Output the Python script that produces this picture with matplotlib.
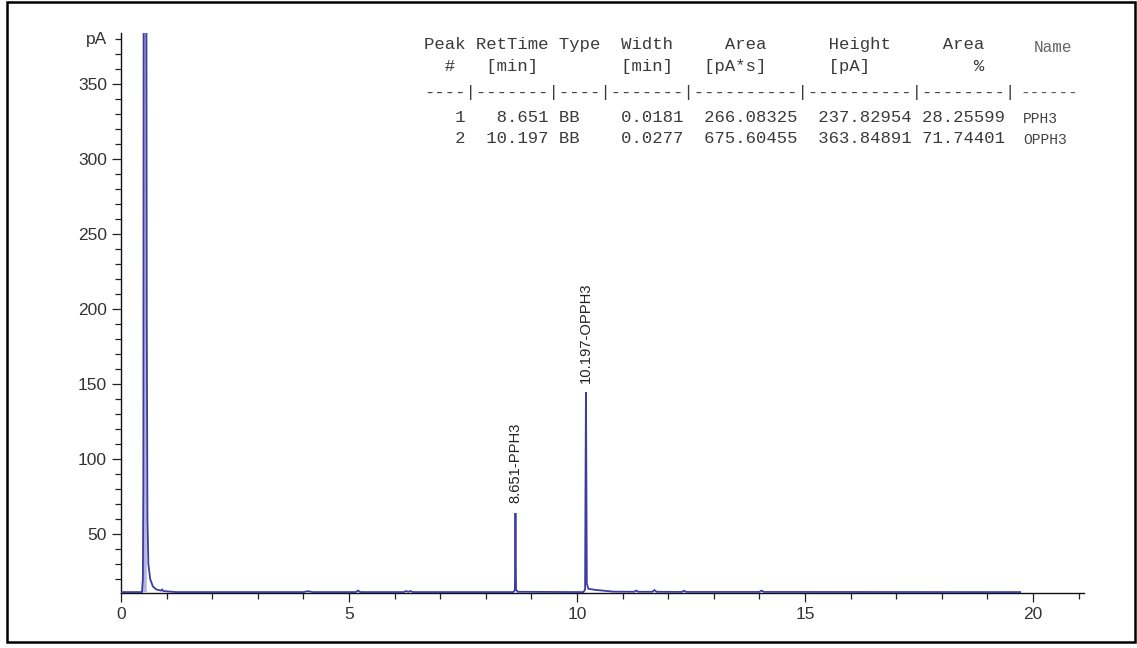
import matplotlib
matplotlib.use("Agg")
import matplotlib.pyplot as plt
from matplotlib.patches import Rectangle
from matplotlib.ticker import FixedLocator

W, H = 1137, 648

# ---- chromatogram trace: retention time [min] vs detector signal [pA]
time_min = [0.00, 0.46, 0.48, 0.49, 0.50, 0.55, 0.565, 0.58, 0.60, 0.64, 0.70,
            0.78, 0.88, 0.90, 0.93, 1.20, 4.00, 4.10, 4.20, 5.15, 5.20, 5.25,
            6.20, 6.25, 6.30, 6.35, 6.40, 8.60, 8.638, 8.646, 8.651, 8.656,
            8.664, 8.70, 10.14, 10.178, 10.188, 10.197, 10.206, 10.216, 10.25,
            10.40, 10.60, 10.80, 11.25, 11.30, 11.35, 11.65, 11.70, 11.75,
            12.30, 12.35, 12.40, 14.00, 14.05, 14.10, 19.72]
signal_pa = [11.3, 11.3, 20.0, 85.0, 600.0, 600.0, 195.0, 60.0, 30.0, 20.0, 15.0,
             13.0, 12.3, 13.0, 12.0, 11.3, 11.3, 11.9, 11.3, 11.3, 12.3, 11.3,
             11.3, 12.0, 11.5, 12.0, 11.3, 11.3, 12.5, 40.0, 64.0, 40.0,
             13.0, 11.5, 11.3, 13.0, 90.0, 144.5, 90.0, 17.0, 13.5,
             12.8, 12.2, 11.6, 11.5, 12.3, 11.5, 11.5, 12.6, 11.5,
             11.4, 12.2, 11.4, 11.4, 12.3, 11.4, 11.3]
baseline_pa = 11.3

# ---- integrated peaks
peak_rt = [8.651, 10.197]
peak_top = [64.0, 144.5]
peak_name = ["PPH3", "OPPH3"]

# ---- integration report
peak_no = [1, 2]
peak_type = ["BB", "BB"]
peak_width = ["0.0181", "0.0277"]
peak_area = ["266.08325", "675.60455"]
peak_height = ["237.82954", "363.84891"]
peak_area_pct = ["28.25599", "71.74401"]

x_major = [0, 5, 10, 15, 20]
x_minor = [1, 2, 3, 4, 6, 7, 8, 9, 11, 12, 13, 14, 16, 17, 18, 19, 21]
y_major = [50, 100, 150, 200, 250, 300, 350]
y_minor = [v for v in range(20, 390, 10) if v not in y_major]

sans = "Liberation Sans"
mono = "Liberation Mono"

fig = plt.figure(figsize=(W / 100, H / 100), dpi=100)
fig.patch.set_facecolor("white")

ax = fig.add_axes([121 / W, 1 - 593 / H, (1084 - 121) / W, (593 - 33) / H])
ax.set_xlim(0, 21.12)
ax.set_ylim(10.7, 384)

# shade only the off-scale solvent front
solvent = [t <= 0.57 for t in time_min]
ax.fill_between(time_min, baseline_pa, signal_pa, where=solvent,
                color="#b4b4e2", lw=0, zorder=2.6)
ax.plot(time_min, signal_pa, color="#3c3ca2", lw=1.3, zorder=3,
        solid_joinstyle="miter")

for s in ("top", "right"):
    ax.spines[s].set_visible(False)
for s in ("left", "bottom"):
    ax.spines[s].set_color("#111111")
    ax.spines[s].set_linewidth(1.0)

ax.xaxis.set_major_locator(FixedLocator(x_major))
ax.xaxis.set_minor_locator(FixedLocator(x_minor))
ax.yaxis.set_major_locator(FixedLocator(y_major))
ax.yaxis.set_minor_locator(FixedLocator(y_minor))
ax.tick_params(which="major", length=6.5, width=0.9, color="#222222",
               labelsize=12.5, labelcolor="#333333", pad=3.6)
ax.tick_params(which="minor", length=4.2, width=0.9, color="#222222")
for lab in ax.get_xticklabels() + ax.get_yticklabels():
    lab.set_family(sans)

# unit label sitting on the top minor tick
ax.annotate("pA", xy=(0, 380), xycoords=("axes fraction", "data"),
            xytext=(-10.2, 0), textcoords="offset points", ha="right",
            va="center", fontsize=12.5, color="#333333", family=sans)

# peak annotations
for rt, top, name in zip(peak_rt, peak_top, peak_name):
    ax.annotate(f"{rt:.3f}-{name}", xy=(rt, top), xytext=(0, 7),
                textcoords="offset points", rotation=90, ha="center",
                va="bottom", fontsize=10.6, color="#222222", family=sans)

# ---- report table
def ftext(px, py, s, **kw):
    fig.text(px / W, 1 - py / H, s, va="center", ha="left", **kw)

x0 = 424.5
tcol = "#3a3a3a"
tsize = 12.4
hdr1 = "Peak RetTime Type  Width     Area      Height     Area"
hdr2 = "  #   [min]        [min]   [pA*s]      [pA]          %"
dash = "----|-------|----|-------|----------|----------|--------|"
ftext(x0, 44, hdr1, family=mono, fontsize=tsize, color=tcol)
ftext(x0, 66, hdr2, family=mono, fontsize=tsize, color=tcol)
ftext(x0, 92, dash, family=mono, fontsize=tsize, color=tcol)
rows_y = [117, 138]
for i, yy in enumerate(rows_y):
    row = (f"{peak_no[i]:>4d} {peak_rt[i]:>7.3f} {peak_type[i]:<4s} "
           f"{peak_width[i]:>7s} {peak_area[i]:>10s} {peak_height[i]:>10s}"
           f"{peak_area_pct[i]:>9s}")
    ftext(x0, yy, row, family=mono, fontsize=tsize, color=tcol)

ftext(1034, 47, "Name", family=mono, fontsize=11.5, color="#666666")
ftext(1020, 93, "------", family=mono, fontsize=11.5, color="#555555")
for i, yy in enumerate(rows_y):
    ftext(1023, yy + 2, peak_name[i], family=mono, fontsize=10.5, color="#444444")

# page frame
fig.patches.append(Rectangle((6.5 / W, 1 - 641.5 / H), (1134.5 - 6.5) / W,
                             (641.5 - 1.5) / H, transform=fig.transFigure,
                             fill=False, ec="black", lw=1.8, zorder=10))

fig.savefig("out.png", dpi=100, facecolor="white")
